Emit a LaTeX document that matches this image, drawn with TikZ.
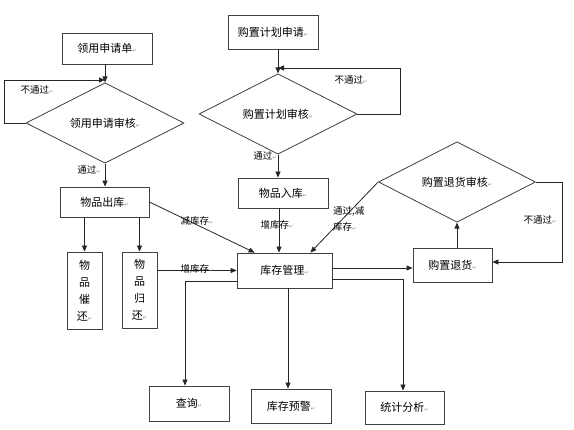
\documentclass[tikz,border=0pt]{standalone}
\usepackage{fontspec}
\setmainfont{Noto Sans CJK SC}
\newfontfamily\symf{DejaVu Sans}
\usetikzlibrary{shapes.geometric,arrows.meta,calc}
\newcommand{\rt}{{\symf\fontsize{5}{5}\selectfont\color{black!45}↵}}
\begin{document}
\begin{tikzpicture}[x=1pt,y=-1pt,
  box/.style={draw=black!75,line width=0.8pt,inner sep=0pt,font=\fontsize{11}{12}\selectfont},
  vbox/.style={box,align=center,font=\fontsize{11}{17}\selectfont},
  dia/.style={diamond,draw=black!75,line width=0.8pt,inner sep=0pt,minimum width=158pt,minimum height=60pt,font=\fontsize{11}{12}\selectfont},
  arr/.style={draw=black!85,line width=0.8pt,-{Triangle[length=6pt,width=5pt]}},
  lab/.style={font=\fontsize{9.5}{11}\selectfont,inner sep=0pt}]
\fill[white] (0,0) rectangle (574,430);
\useasboundingbox (0,0) rectangle (574,430);

% nodes
\node[box,minimum width=90pt,minimum height=31pt] (req) at (107,48.5) {领用申请单\rt};
\node[dia] (rev1) at (105,123) {领用申请审核\rt};
\node[box,minimum width=89pt,minimum height=30pt] (out) at (104.5,202) {物品出库\rt};
\node[box,minimum width=90pt,minimum height=34pt] (plan) at (273,32) {购置计划申请\rt};
\node[dia] (rev2) at (278,114) {购置计划审核\rt};
\node[box,minimum width=90pt,minimum height=30pt] (in) at (283,193) {物品入库\rt};
\node[box,minimum width=95pt,minimum height=35pt] (mgmt) at (284.5,270.5) {库存管理\rt};
\node[vbox,minimum width=35pt,minimum height=77pt] (remind) at (84.5,290.5) {物\\品\\催\\还\rt};
\node[vbox,minimum width=35pt,minimum height=76pt] (ret) at (139.5,290) {物\\品\\归\\还\rt};
\node[box,minimum width=80pt,minimum height=35pt] (query) at (189,403.5) {查询\rt};
\node[box,minimum width=80pt,minimum height=34pt] (warn) at (291,406) {库存预警\rt};
\node[box,minimum width=79pt,minimum height=33pt] (stat) at (404.5,407.5) {统计分析\rt};
\node[box,minimum width=79pt,minimum height=34pt] (back) at (452.5,265) {购置退货\rt};
\node[dia,minimum width=157pt] (rev3) at (457,182) {购置退货审核\rt};

% coordinates
\coordinate (loop1) at (4,80);
\coordinate (loop2) at (400,68);
\coordinate (loop3) at (562,262);

% connectors left
\draw[arr] (req.south -| rev1.north) -- (rev1.north);
\draw[arr] (rev1.west) -| (loop1) -- (loop1 -| rev1.north);
\node[lab] (l1) at (37,90) {不通过\rt};
\draw[arr] (rev1.south) -- (rev1.south |- out.north);
\node[lab] (l2) at (89,170) {通过\rt};
\draw[arr] (out.south -| remind.north) -- (remind.north);
\draw[arr] (out.south -| ret.north) -- (ret.north);
\draw[arr] (out.east) -- ($(mgmt.north west)+(18,0)$);
\node[lab] (l3) at (197,221) {减库存\rt};
\draw[arr] (ret.east |- mgmt.west) -- (mgmt.west);
\node[lab] (l4) at (197,269) {增库存\rt};

% connectors middle
\draw[arr] (plan.south -| rev2.north) -- (rev2.north);
\draw[arr] (rev2.east) -| (loop2) -- (loop2 -| rev2.north);
\node[lab] (l5) at (351,80) {不通过\rt};
\draw[arr] (rev2.south) -- (rev2.south |- in.north);
\node[lab] (l6) at (265,156) {通过\rt};
\coordinate (i1) at ($(in.south)+(-4,0)$);
\draw[arr] (i1) -- (i1 |- mgmt.north);
\node[lab] (l7) at (277,225) {增库存\rt};

% connectors from mgmt
\coordinate (m0) at ($(mgmt.west)+(0,10.5)$);
\coordinate (q0) at ($(query.north)+(-4,0)$);
\draw[arr] (m0) -| (q0);
\coordinate (m2) at ($(mgmt.south)+(3.5,0)$);
\draw[arr] (m2) -- (m2 |- warn.north);
\coordinate (m3) at ($(mgmt.east)+(0,8.5)$);
\coordinate (s0) at ($(stat.north)+(-1.5,0)$);
\draw[arr] (m3) -| (s0);
\coordinate (m1) at ($(mgmt.east)+(0,-2.5)$);
\draw[arr] (m1) -- (m1 -| back.west);

% right side
\draw[arr] (back.north -| rev3.south) -- (rev3.south);
\draw[arr] (rev3.east) -| (loop3) -- (loop3 -| back.east);
\node[lab] (l8) at (540,220) {不通过\rt};
\draw[arr] (rev3.west) -- ($(mgmt.north east)+(-22,0)$);
\node[lab,anchor=west,align=left,font=\fontsize{9.5}{16}\selectfont] (l9) at (333,219) {通过,减\\库存\rt};
\end{tikzpicture}
\end{document}
